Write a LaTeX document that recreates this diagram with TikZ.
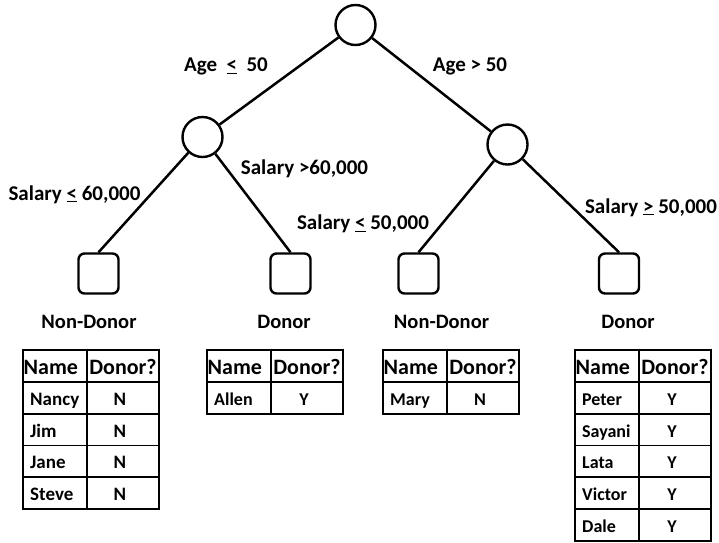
\documentclass[tikz,border=0pt]{standalone}
\usepackage{fontspec}
\setmainfont{Carlito}
\usetikzlibrary{positioning}

% one small table of names under a leaf: [#1] text size, #2 prefix, #3 left edge, #4 rows
\newcommand{\donortab}[4][18]{%
  \draw[tabline] (#3,350) rectangle +(64,31.8);
  \draw[tabline] (#3+64,350) rectangle +(72,31.8);
  \node[hdr,anchor=base west] (#2-h1) at (#3+0.5,374) {Name};
  \node[hdr,anchor=base] (#2-h2) at (#3+100,374) {Donor?};
  \foreach \nm/\v [count=\r] in {#4}{
    \draw[tabline] (#3,350+31.8*\r) rectangle +(64,31.8);
    \draw[tabline] (#3+64,350+31.8*\r) rectangle +(72,31.8);
    \node[cell,font=\fontsize{#1}{20}\selectfont\bfseries,anchor=base west]
      (#2-n\r) at (#3+7,373.4+31.8*\r) {\nm};
    \node[cell,font=\fontsize{#1}{20}\selectfont\bfseries,anchor=base]
      (#2-v\r) at (#3+97,373.4+31.8*\r) {\v};
  }%
}

\begin{document}
\begin{tikzpicture}[x=1pt,y=-1pt,
    dec/.style={circle,draw,line width=2.4pt,minimum size=40pt,inner sep=0pt},
    leaf/.style={rectangle,draw,line width=2.4pt,rounded corners=6pt,minimum size=40pt,inner sep=0pt},
    edge/.style={line width=2.5pt},
    cond/.style={font=\fontsize{21}{24}\selectfont\bfseries,inner sep=0pt},
    cls/.style={font=\fontsize{20.5}{24}\selectfont\bfseries,inner sep=0pt},
    hdr/.style={font=\fontsize{22}{24}\selectfont\bfseries,inner sep=0pt},
    cell/.style={inner sep=0pt},
    tabline/.style={line width=1.8pt}]
  \useasboundingbox (0,0) rectangle (719,542);

  % decision nodes
  \node[dec] (root) at (355.5,25) {};
  \node[dec] (lft) at (202.5,137) {};
  \node[dec] (rgt) at (507.5,144.5) {};

  % leaves
  \node[leaf] (l1) at (98.5,273.5) {};
  \node[leaf] (l2) at (290.5,273.5) {};
  \node[leaf] (l3) at (418.5,273.5) {};
  \node[leaf] (l4) at (619,273.5) {};

  \draw[edge] (root) -- (lft);
  \draw[edge] (root) -- (rgt);
  \draw[edge] (lft) -- (l1.north);
  \draw[edge] (lft) -- (l2.north);
  \draw[edge] (rgt) -- (l3.north);
  \draw[edge] (rgt) -- (l4.north);

  % split conditions
  \node[cond,anchor=base] (ageL) at (226,71.5) {Age\ \ \underline{<}\ \ 50};
  \node[cond,anchor=base] (ageR) at (470,71.5) {Age > 50};
  \node[cond,anchor=base] (salLL) at (74.5,200) {Salary \underline{<} 60,000};
  \node[cond,anchor=base] (salLR) at (304.5,174) {Salary >60,000};
  \node[cond,anchor=base] (salRL) at (363,229.5) {Salary \underline{<} 50,000};
  \node[cond,anchor=base] (salRR) at (651,213) {Salary \underline{>} 50,000};

  % class labels
  \node[cls,anchor=base] (c1) at (89,328) {Non-Donor};
  \node[cls,anchor=base] (c2) at (284,328) {Donor};
  \node[cls,anchor=base] (c3) at (441.5,328) {Non-Donor};
  \node[cls,anchor=base] (c4) at (628,328) {Donor};

  % tables
  \donortab[19]{ta}{23}{Nancy/N,Jim/N,Jane/N,Steve/N}
  \donortab{tb}{207}{Allen/Y}
  \donortab{tc}{383}{Mary/N}
  \donortab{td}{575}{Peter/Y,Sayani/Y,Lata/Y,Victor/Y,Dale/Y}
\end{tikzpicture}
\end{document}
